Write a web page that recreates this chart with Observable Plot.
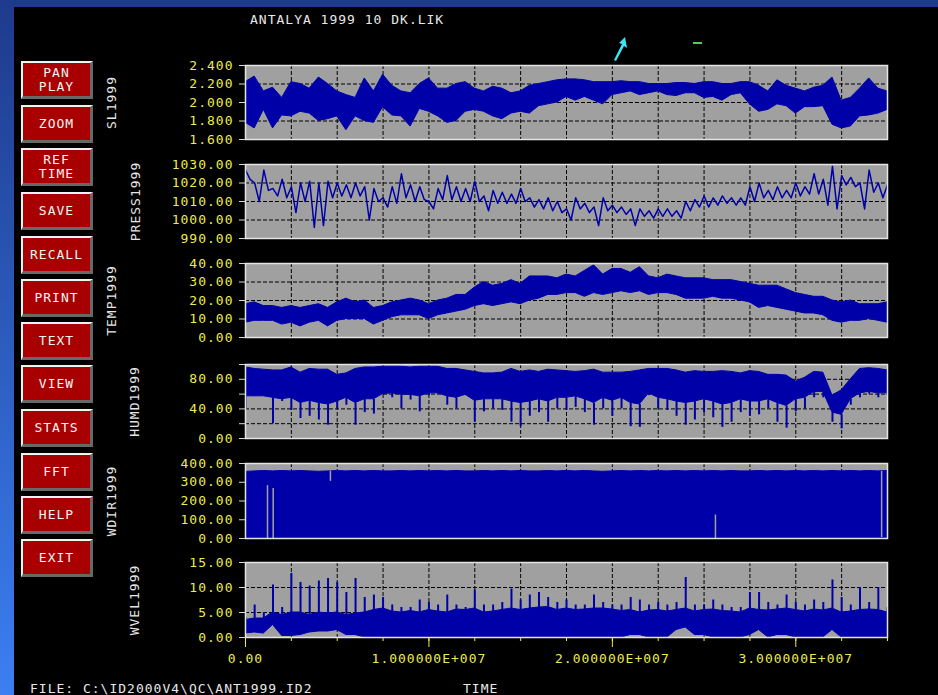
<!DOCTYPE html>
<html><head><meta charset="utf-8">
<script src="https://cdn.jsdelivr.net/npm/d3@7"></script>
<script src="https://cdn.jsdelivr.net/npm/@observablehq/plot@0.6"></script>
<style>
html,body{margin:0;padding:0;background:#000;}
#screen{position:relative;width:938px;height:695px;background:#000;overflow:hidden;font-family:'DejaVu Sans Mono',monospace;font-size:13px;letter-spacing:1px;}
.abs{position:absolute;}
#topbar{left:0;top:0;width:938px;height:7px;background:#1e3a8c;}
#leftbar{left:0;top:0;width:14px;height:695px;background:linear-gradient(#1e3a8c,#3b7ff2);}
.btn{position:absolute;left:21px;width:72px;height:38px;box-sizing:border-box;background:#a80000;
 border-top:2px solid #f2f2f2;border-left:2px solid #f2f2f2;border-bottom:3px solid #686868;border-right:3px solid #686868;
 color:#f4f4f4;display:flex;flex-direction:column;align-items:center;justify-content:center;text-align:center;}
.btn span{display:block;line-height:15px;height:15px;}
.btn span + span{margin-top:-1px;}
.txt{position:absolute;color:#e8e8e8;white-space:pre;line-height:15px;}
.panel{position:absolute;left:0;}
</style></head>
<body><div id="screen">
<div id="topbar" class="abs"></div>
<div id="leftbar" class="abs"></div>
<div class="txt" style="left:250px;top:12px">ANTALYA 1999 10 DK.LIK</div>
<svg class="abs" style="left:608px;top:34px" width="22" height="30" viewBox="0 0 22 30"><path d="M17 3 L19 14 L16 12 L8 27 L6 26 L14 10 L11 9 Z" fill="#3fe3f3"/></svg>
<div class="abs" style="left:693px;top:42px;width:9px;height:2px;background:#5c5"></div>
<div class="txt" style="left:30px;top:681px">FILE: C:\ID2000V4\QC\ANT1999.ID2</div>
<div class="txt" style="left:463px;top:681px">TIME</div>
</div>
<script>
// ---- data (time in millions of seconds) ----
const T = [0,0.5,1,1.5,2,2.5,3,3.5,4,4.5,5,5.5,6,6.5,7,7.5,8,8.5,9,9.5,10,10.5,11,11.5,12,12.5,13,13.5,14,14.5,15,15.5,16,16.5,17,17.5,18,18.5,19,19.5,20,20.5,21,21.5,22,22.5,23,23.5,24,24.5,25,25.5,26,26.5,27,27.5,28,28.5,29,29.5,30,30.5,31,31.5,32,32.5,33,33.5,34,34.5,35];

const slHi = [2.22,2.28,2.12,2.16,2.05,2.22,2.2,2.15,2.27,2.2,
 2.12,2.08,2.05,2.26,2.12,2.3,2.18,2.12,2.1,2.2,
 2.26,2.15,2.15,2.2,2.22,2.15,2.12,2.17,2.15,2.1,
 2.12,2.18,2.2,2.22,2.24,2.25,2.25,2.24,2.22,2.22,
 2.22,2.23,2.22,2.22,2.2,2.2,2.2,2.21,2.21,2.2,
 2.22,2.22,2.2,2.2,2.22,2.22,2.18,2.12,2.24,2.18,
 2.15,2.12,2.16,2.18,2.27,2.02,2.05,2.15,2.26,2.15,2.12];
const slLo = [1.78,1.72,1.92,1.72,1.86,1.85,1.9,1.88,1.8,1.82,
 1.85,1.7,1.85,1.8,1.78,1.95,1.86,1.85,1.74,1.93,
 1.9,1.85,1.78,1.8,1.9,1.92,1.9,1.85,1.82,1.88,
 1.9,1.88,1.96,1.98,2.0,2.06,2.02,2.06,2.02,1.98,
 2.08,2.1,2.12,2.08,2.1,2.12,2.08,2.07,2.1,2.1,
 2.05,2.06,2.02,2.08,2.1,1.98,1.9,1.92,1.98,1.96,
 1.88,1.95,1.95,1.96,1.76,1.72,1.74,1.85,1.86,1.88,1.92];

const pressHi = [1027,1020,1027,1017,1022,1018,1020,1021,1020,1021,
 1020,1019,1020,1018,1017,1012,1018,1025,1019,1018,
 1010,1017,1024,1018,1017,1021,1013,1016,1015,1014,
 1017,1012,1011,1012,1010,1006,1012,1009,1007,1012,
 1008,1007,1006,1006,1005,1006,1006,1005,1010,1011,
 1013,1012,1013,1012,1012,1018,1020,1016,1018,1016,
 1020,1018,1025,1022,1029,1024,1023,1020,1027,1020,1019];
const pressLo = [1022,1010,1016,1013,1012,1004,1010,996,997,1012,
 1013,1012,1013,1000,1010,1007,1009,1012,1010,1011,
 1006,1011,1011,1010,1010,1010,1005,1009,1009,1009,
 1010,1007,1006,1005,1004,1000,1006,1004,997,1005,
 1004,1003,997,1002,1001,1002,1002,1001,1005,1007,
 1007,1008,1009,1008,1008,1010,1012,1011,1012,1012,
 1013,1014,1014,1008,1006,1019,1018,1006,1015,1012,1016];

const tempHi = [18,19,17,17,16,17,16,17,18,16,
 19,21,19,20,16,17,19,20,21,20,
 18,20,21,23,23,27,30,28,29,31,
 29,33,33,33,32,34,33,36,39,34,
 37,37,35,38,33,32,34,33,32,32,
 32,31,31,31,30,29,28,28,28,26,
 24,23,22,22,20,19,20,18,18,18,19];
const tempLo = [8,9,9,9,7,8,6,8,9,6,
 9,10,10,10,7,9,11,12,12,12,
 10,12,13,14,15,17,18,17,18,19,
 18,20,21,23,23,24,24,22,24,23,
 24,25,24,25,23,24,24,23,21,21,
 21,22,21,21,20,19,16,17,16,15,
 14,13,13,12,9,8,9,9,10,9,8];

const humHi = [96,94,93,92,92,96,89,94,93,93,
 86,88,94,96,96,97,97,97,96,97,
 97,97,94,94,92,90,88,88,89,94,
 90,92,90,93,92,91,90,91,93,89,
 89,89,90,92,94,94,94,92,89,91,
 90,90,91,90,88,91,90,86,86,85,
 77,82,90,89,58,65,80,94,95,94,92];
const humBody = [57,57,57,55,53,55,48,51,48,46,
 50,55,48,53,53,60,61,59,59,57,
 61,61,57,55,59,51,53,53,53,50,
 48,50,53,50,55,55,57,53,48,55,
 51,55,48,46,61,55,53,50,48,50,
 53,50,46,48,53,50,50,53,48,44,
 53,55,63,63,35,32,53,61,63,61,61];
const humMin = [40,62,65,20,50,38,27,30,25,18,
 40,45,18,35,33,60,55,40,52,36,
 58,60,45,40,58,22,36,40,38,22,
 16,30,35,22,40,38,42,35,18,40,
 30,40,16,15,58,40,38,30,18,25,
 35,28,15,22,35,30,32,40,22,14,
 36,40,55,55,22,13,45,55,60,55,58];

const wdirHi = [355,358,360,358,360,358,360,358,356,358,
 360,358,360,358,360,358,358,360,358,360,
 358,360,358,360,358,358,360,358,360,358,
 360,358,358,360,358,360,358,360,358,356,
 358,360,358,360,358,360,358,360,358,360,
 358,360,358,360,358,358,360,358,360,358,
 360,358,360,358,360,358,360,358,360,358,360];
// short stretches with no data (seen as gray slits)
const wdirGapT = [1.2,1.51,4.63,25.62,34.68];
const wdirGapLo = [0,0,305,0,5];
const wdirGapHi = [282,267,360,125,358];

const wvelMax = [4,6.5,5,10.5,6,12.8,11,10.3,11.3,11.8,
 11,9,11.8,8,8.5,8,6.5,6,6,7.5,
 7,6.5,8.5,6.5,6,9.5,6.5,6.5,7,9.7,
 7.5,8.5,9,8,7,7.5,6.5,6.5,8.5,7,
 6.5,6.5,8,7.5,6.5,7,6.5,7,12,6.5,
 6.5,7.5,6.5,6,6,9,9,7,6.5,8.5,
 7,6.5,7.5,7,11.5,8,6.5,10,7,10,6];
const wvelBody = [3.5,3.8,3.8,5,4.5,5,5,4.5,5,4.8,
 5,4.5,4.8,5,5.5,5.8,5.2,5,5.3,5,
 5.5,5.2,5,5.6,5.5,5.8,5,5.2,5.5,5.8,
 5.5,5.8,6,6.1,5.5,5.8,5.5,5.6,5.8,5.8,
 5.6,5.3,5.5,5,5.4,5.5,5.2,5.5,5.8,5.2,
 5.5,5.6,5.3,5.2,5,5.8,5.5,5.4,5.6,5.8,
 5.5,5.2,5.6,5.4,5.8,5,5.2,5.5,5.6,5.5,5];
const wvelLo = [0.8,1,0.8,2.5,0.3,0.3,0.5,1,1.2,1.2,
 1.5,0.5,0.5,0,0,0,0,0,0,0,
 0,0,0,0,0,0,0,0,0,0,
 0,0,0,0,0,0,0,0,0,0,
 0,0,0.5,0.5,0,0,0,1.5,2,0.5,
 0.5,0,0,0,0,0.5,1.5,0,0.5,0.5,
 0,0,0,0,1.5,0,0,0,0,0,0];

// ---- ticks & labels ----
const xTicksMajor = [0, 1e7, 2e7, 3e7];
const xTicksMinor = [0,2.5e6,5e6,7.5e6,1e7,1.25e7,1.5e7,1.75e7,2e7,2.25e7,2.5e7,2.75e7,3e7,3.25e7,3.5e7];
const slTicks = [1.6,1.8,2.0,2.2,2.4];
const pressTicks = [990,1000,1010,1020,1030];
const tempTicks = [0,10,20,30,40];
const humTicks = [0,20,40,60,80,100];
const humLabelTicks = [0,40,80];
const wdirTicks = [0,100,200,300,400];
const wvelTicks = [0,5,10,15];
const yLabels = ["SL1999","PRESS1999","TEMP1999","HUMD1999","WDIR1999","WVEL1999"];
const buttonLabels = [["PAN","PLAY"],["ZOOM"],["REF","TIME"],["SAVE"],["RECALL"],["PRINT"],["TEXT"],["VIEW"],["STATS"],["FFT"],["HELP"],["EXIT"]];

// ---- styles / layout ----
const BLUE = "#0000a8", GRAY = "#a0a0a0", YELLOW = "#ecec4e", WHITE = "#e6e6e6";
const W = 938, ML = 245, MR = 51, MT = 10;
const buttonTops = [61,105,148,192,236,279,322,365,409,453,496,539];

const screen = document.getElementById("screen");
buttonLabels.forEach((lines, i) => {
  const b = document.createElement("div");
  b.className = "btn";
  b.style.top = buttonTops[i] + "px";
  for (const line of lines) {
    const s = document.createElement("span");
    s.textContent = line;
    b.appendChild(s);
  }
  screen.appendChild(b);
});

const rows = (cols) => T.map((t, i) => {
  const r = {t: t * 1e6};
  for (const k in cols) r[k] = cols[k][i];
  return r;
});
const slRows = rows({hi: slHi, lo: slLo});
const pressRows = T.flatMap((t, i) => [{t: t * 1e6, v: pressHi[i]}, {t: (t + 0.25) * 1e6, v: pressLo[i]}]);
const tempRows = rows({hi: tempHi, lo: tempLo});
const humRows = rows({hi: humHi, body: humBody, min: humMin});
const wdirRows = rows({hi: wdirHi});
const wdirGaps = wdirGapT.map((t, i) => ({t: t * 1e6, lo: wdirGapLo[i], hi: wdirGapHi[i]}));
const wvelRows = rows({max: wvelMax, body: wvelBody, lo: wvelLo});

const f2 = d3.format(".2f"), f3 = d3.format(".3f");
const fmtX = d => d === 0 ? "0.00" : d.toExponential(6).toUpperCase().replace(/E\+(\d+)/, (m, e) => "E+" + e.padStart(3, "0"));

const panels = [
  {top: 65, h: 74, labelX: 111, domain: [1.6, 2.4], ticks: slTicks, labelTicks: slTicks, fmt: f3,
   marks: [Plot.areaY(slRows, {x: "t", y1: "lo", y2: "hi", fill: BLUE, stroke: BLUE, strokeWidth: 1, clip: true})]},
  {top: 164, h: 74, labelX: 135, domain: [990, 1030], ticks: pressTicks, labelTicks: pressTicks, fmt: f2,
   marks: [Plot.line(pressRows, {x: "t", y: "v", stroke: BLUE, strokeWidth: 1.5, clip: true})]},
  {top: 263, h: 74, labelX: 111, domain: [0, 40], ticks: tempTicks, labelTicks: tempTicks, fmt: f2,
   marks: [Plot.areaY(tempRows, {x: "t", y1: "lo", y2: "hi", fill: BLUE, stroke: BLUE, strokeWidth: 1, clip: true})]},
  {top: 364, h: 74, labelX: 134, domain: [0, 100], ticks: humTicks, labelTicks: humLabelTicks, fmt: f2,
   marks: [
     Plot.areaY(humRows, {x: "t", y1: "body", y2: "hi", fill: BLUE, stroke: BLUE, strokeWidth: 1, clip: true}),
     Plot.ruleX(humRows, {x: "t", y1: "min", y2: "body", stroke: BLUE, strokeWidth: 2, clip: true})
   ]},
  {top: 463, h: 75, labelX: 111, domain: [0, 400], ticks: wdirTicks, labelTicks: wdirTicks, fmt: f2,
   marks: [
     Plot.areaY(wdirRows, {x: "t", y: "hi", fill: BLUE, stroke: BLUE, strokeWidth: 1, clip: true}),
     Plot.ruleX(wdirGaps, {x: "t", y1: "lo", y2: "hi", stroke: GRAY, strokeWidth: 1.5, clip: true})
   ]},
  {top: 562, h: 75, labelX: 134, domain: [0, 15], ticks: wvelTicks, labelTicks: wvelTicks, fmt: f2, last: true,
   marks: [
     Plot.areaY(wvelRows, {x: "t", y1: "lo", y2: "body", fill: BLUE, stroke: BLUE, strokeWidth: 1, clip: true}),
     Plot.ruleX(wvelRows, {x: "t", y1: "body", y2: "max", stroke: BLUE, strokeWidth: 2, clip: true})
   ]}
];

panels.forEach((p, i) => {
  const MB = p.last ? 35 : 10;
  const marks = [
    Plot.frame({fill: GRAY}),
    Plot.ruleY(p.ticks.slice(1, -1), {stroke: "#000", strokeDasharray: "4,2"}),
    Plot.ruleX(xTicksMinor.slice(1, -1), {stroke: "#000", strokeDasharray: "4,2"}),
    ...p.marks,
    Plot.frame({stroke: "#e4e4e4", strokeWidth: 1.5}),
    Plot.axisY({ticks: p.ticks, tickSize: 6, stroke: "#d8d8d8", tickFormat: () => "", label: null}),
    Plot.axisY({ticks: p.labelTicks, tickSize: 0, tickPadding: 12, tickFormat: p.fmt, fill: YELLOW, label: null}),
    Plot.text([yLabels[i]], {text: d => d, frameAnchor: "left", textAnchor: "middle", lineAnchor: "middle", dx: p.labelX - ML, rotate: -90, fill: WHITE})
  ];
  if (p.last) {
    marks.push(
      Plot.axisX({ticks: xTicksMinor, tickSize: 4, stroke: YELLOW, tickFormat: () => "", label: null}),
      Plot.axisX({ticks: xTicksMajor, tickSize: 10, tickPadding: 6, stroke: YELLOW, fill: YELLOW, tickFormat: fmtX, label: null})
    );
  }
  const chart = Plot.plot({
    width: W, height: MT + p.h + MB,
    marginLeft: ML, marginRight: MR, marginTop: MT, marginBottom: MB,
    style: "background: transparent; font-family: 'DejaVu Sans Mono', monospace; font-size: 13px; letter-spacing: 1px; overflow: visible;",
    x: {domain: [0, 3.5e7], ...(p.last ? {} : {axis: null})},
    y: {domain: p.domain},
    marks
  });
  const wrap = document.createElement("div");
  wrap.className = "panel";
  wrap.style.top = (p.top - MT) + "px";
  wrap.appendChild(chart);
  screen.appendChild(wrap);
});
</script>
</body></html>
